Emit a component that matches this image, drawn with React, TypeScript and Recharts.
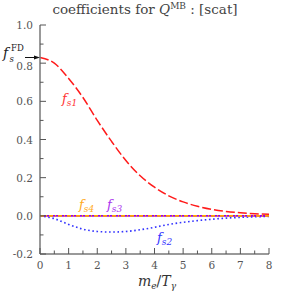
import React from "react";
import { LineChart, Line, XAxis, YAxis } from "recharts";

if (typeof document !== "undefined") {
  document.body.style.margin = "0";
}

const mValues = [0, 0.5, 1, 1.5, 2, 2.5, 3, 3.5, 4, 4.5, 5, 5.5, 6, 6.5, 7, 7.5, 8];
const fs1Values = [0.83, 0.8, 0.72, 0.62, 0.5, 0.39, 0.29, 0.21, 0.15, 0.105, 0.073, 0.05, 0.034, 0.023, 0.016, 0.011, 0.008];
const fs2Values = [0, -0.015, -0.045, -0.07, -0.082, -0.085, -0.082, -0.073, -0.06, -0.045, -0.034, -0.025, -0.018, -0.012, -0.008, -0.005, -0.003];
const fs3Values = [0, 0, 0, 0, 0, 0, 0, 0, 0, 0, 0, 0, 0, 0, 0, 0, 0];
const fs4Values = [0, 0, 0, 0, 0, 0, 0, 0, 0, 0, 0, 0, 0, 0, 0, 0, 0];

const xTicks = [0, 0.5, 1, 1.5, 2, 2.5, 3, 3.5, 4, 4.5, 5, 5.5, 6, 6.5, 7, 7.5, 8];
const xMajor = [0, 1, 2, 3, 4, 5, 6, 7, 8];
const yTicks = [-0.2, -0.1, 0, 0.1, 0.2, 0.3, 0.4, 0.5, 0.6, 0.7, 0.8, 0.9, 1.0];
const yMajor = [-0.2, 0, 0.2, 0.4, 0.6, 0.8, 1.0];
const yTickLabels = ["-0.2", "0.0", "0.2", "0.4", "0.6", "0.8", "1.0"];

const data = mValues.map((m, i) => ({
  m,
  fs1: fs1Values[i],
  fs2: fs2Values[i],
  fs3: fs3Values[i],
  fs4: fs4Values[i],
}));

const W = 283;
const H = 295;
const PL = 40;
const PR = 269;
const PT = 25;
const PB = 254;

const FONT = "\"DejaVu Serif\", serif";
const AXIS = "#777";
const TICK = "#555";
const LABEL = "#555";

const isMajorX = (v: number) => xMajor.some((t) => Math.abs(t - v) < 1e-6);
const majorYIndex = (v: number) => yMajor.findIndex((t) => Math.abs(t - v) < 1e-6);

const BottomTick = (props: any) => {
  const { x, y, payload } = props;
  const major = isMajorX(payload.value);
  return (
    <g>
      <line x1={x} x2={x} y1={y} y2={y - (major ? 6 : 3.5)} stroke={TICK} strokeWidth={1} />
      {major && (
        <text x={x} y={y + 15} textAnchor="middle" style={{ fontFamily: FONT, fontSize: 10.5 }} fill={LABEL}>
          {payload.value}
        </text>
      )}
    </g>
  );
};

const TopTick = (props: any) => {
  const { x, y, payload } = props;
  const major = isMajorX(payload.value);
  return <line x1={x} x2={x} y1={y} y2={y + (major ? 6 : 3.5)} stroke={TICK} strokeWidth={1} />;
};

const LeftTick = (props: any) => {
  const { x, y, payload } = props;
  const idx = majorYIndex(payload.value);
  const major = idx >= 0;
  const shift = yTickLabels[idx] === "0.8" ? 3 : 0;
  return (
    <g>
      <line x1={x} x2={x + (major ? 6 : 3.5)} y1={y} y2={y} stroke={TICK} strokeWidth={1} />
      {major && (
        <text x={x - 7} y={y + 4 + shift} textAnchor="end" style={{ fontFamily: FONT, fontSize: 10.5 }} fill={LABEL}>
          {yTickLabels[idx]}
        </text>
      )}
    </g>
  );
};

const RightTick = (props: any) => {
  const { x, y, payload } = props;
  const major = majorYIndex(payload.value) >= 0;
  return <line x1={x} x2={x - (major ? 6 : 3.5)} y1={y} y2={y} stroke={TICK} strokeWidth={1} />;
};

const FLabel = ({ x, y, sub, color }: { x: number; y: number; sub: string; color: string }) => (
  <text x={x} y={y} style={{ fontFamily: FONT, fontStyle: "italic", fontSize: 13 }} fill={color}>
    f
    <tspan style={{ fontSize: 9 }} dy={3}>
      {sub}
    </tspan>
  </text>
);

export default function App() {
  return (
    <div style={{ position: "relative", width: W, height: H, background: "#fff" }}>
      <LineChart
        width={W}
        height={H}
        data={data}
        margin={{ top: PT, right: W - PR, bottom: 0, left: 0 }}
      >
        <XAxis
          dataKey="m"
          type="number"
          domain={[0, 8]}
          ticks={xTicks}
          interval={0}
          tickSize={0}
          tickMargin={0}
          height={H - PB}
          axisLine={{ stroke: AXIS, strokeWidth: 1.5 }}
          tickLine={false}
          tick={<BottomTick />}
          allowDataOverflow
        />
        <XAxis
          xAxisId="top"
          orientation="top"
          dataKey="m"
          type="number"
          domain={[0, 8]}
          ticks={xTicks}
          interval={0}
          tickSize={0}
          tickMargin={0}
          height={0}
          axisLine={{ stroke: AXIS, strokeWidth: 1.5 }}
          tickLine={false}
          tick={<TopTick />}
        />
        <YAxis
          type="number"
          domain={[-0.2, 1.0]}
          ticks={yTicks}
          interval={0}
          tickSize={0}
          tickMargin={0}
          width={PL}
          axisLine={{ stroke: AXIS, strokeWidth: 1.5 }}
          tickLine={false}
          tick={<LeftTick />}
          allowDataOverflow
        />
        <YAxis
          yAxisId="right"
          orientation="right"
          type="number"
          domain={[-0.2, 1.0]}
          ticks={yTicks}
          interval={0}
          tickSize={0}
          tickMargin={0}
          width={0}
          axisLine={{ stroke: AXIS, strokeWidth: 1.5 }}
          tickLine={false}
          tick={<RightTick />}
        />
        <Line
          dataKey="fs1"
          type="monotone"
          stroke="#ff1a1a"
          strokeWidth={1.5}
          strokeDasharray="9 3"
          dot={false}
          isAnimationActive={false}
        />
        <Line
          dataKey="fs2"
          type="monotone"
          stroke="#3333ff"
          strokeWidth={1.6}
          strokeDasharray="1.6 2.6"
          dot={false}
          isAnimationActive={false}
        />
        <Line
          dataKey="fs3"
          type="monotone"
          stroke="#9a00e0"
          strokeWidth={1.6}
          dot={false}
          isAnimationActive={false}
        />
        <Line
          dataKey="fs4"
          type="monotone"
          stroke="#ffa500"
          strokeWidth={1.6}
          strokeDasharray="4 2 1 2"
          dot={false}
          isAnimationActive={false}
        />
      </LineChart>
      <svg
        width={W}
        height={H}
        style={{ position: "absolute", left: 0, top: 0, pointerEvents: "none" }}
      >
        <text x={145} y={14} textAnchor="middle" style={{ fontFamily: FONT, fontSize: 13.5 }} fill="#444">
          coefficients for <tspan fontStyle="italic">Q</tspan>
          <tspan style={{ fontSize: 9 }} dy={-5}>MB</tspan>
          <tspan dy={5}> : [scat]</tspan>
        </text>
        <text x={3} y={58} style={{ fontFamily: FONT, fontStyle: "italic", fontSize: 14 }} fill="#222">
          f
        </text>
        <text x={11} y={51} style={{ fontFamily: FONT, fontSize: 8.5 }} fill="#222">
          FD
        </text>
        <text x={9.5} y={62} style={{ fontFamily: FONT, fontStyle: "italic", fontSize: 8.5 }} fill="#222">
          s
        </text>
        <line x1={25} x2={36} y1={57.5} y2={57.5} stroke="#111" strokeWidth={1} />
        <polygon points="40,57.5 34,55.5 34,59.5" fill="#111" />
        <FLabel x={62} y={103} sub="s1" color="#ff3333" />
        <FLabel x={79} y={209} sub="s4" color="#ffaa22" />
        <FLabel x={107} y={209} sub="s3" color="#aa33ee" />
        <FLabel x={157} y={242} sub="s2" color="#3333ff" />
        <text x={157} y={286} textAnchor="middle" style={{ fontFamily: FONT, fontSize: 14 }} fill="#333">
          <tspan fontStyle="italic">m</tspan>
          <tspan fontStyle="italic" style={{ fontSize: 9 }} dy={3}>e</tspan>
          <tspan dy={-3}>/</tspan>
          <tspan fontStyle="italic">T</tspan>
          <tspan fontStyle="italic" style={{ fontSize: 9 }} dy={3}>γ</tspan>
        </text>
      </svg>
    </div>
  );
}
